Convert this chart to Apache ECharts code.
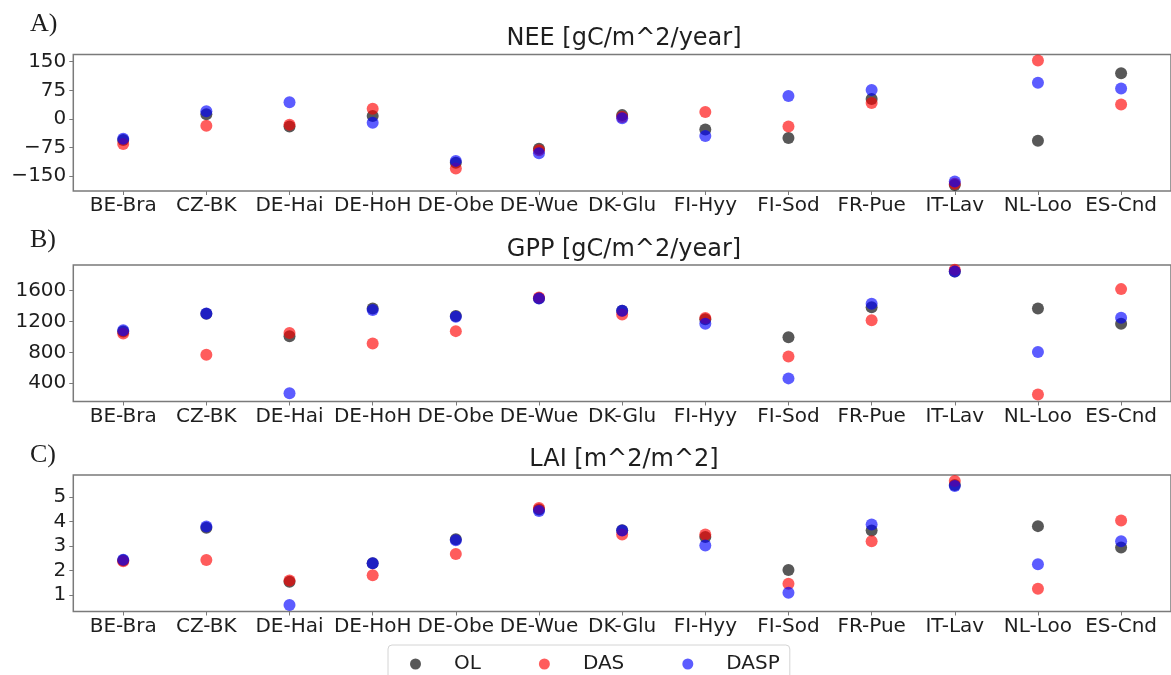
<!DOCTYPE html>
<html>
<head>
<meta charset="utf-8">
<script src="https://cdn.jsdelivr.net/npm/echarts@6/dist/echarts.min.js"></script>
<style>
html,body{margin:0;padding:0;background:#fff;}
#chart{width:1171px;height:675px;}
</style>
</head>
<body>
<div id="chart"></div>
<script>
// ---- data ----
const categories = ['BE-Bra','CZ-BK','DE-Hai','DE-HoH','DE-Obe','DE-Wue','DK-Glu','FI-Hyy','FI-Sod','FR-Pue','IT-Lav','NL-Loo','ES-Cnd'];
const seriesNames = ['OL','DAS','DASP'];

const neeOL   = [-55, 12, -20, 8, -115, -78, 10, -28, -50, 52, -173, -57, 120];
const neeDAS  = [-66, -18, -15, 27, -130, -82, 5, 18, -20, 42, -170, 153, 38];
const neeDASP = [-52, 20, 44, -10, -110, -90, 2, -45, 60, 76, -164, 95, 80];

const gppOL   = [1070, 1300, 1010, 1370, 1270, 1500, 1340, 1230, 995, 1385, 1850, 1368, 1170];
const gppDAS  = [1045, 770, 1050, 915, 1075, 1510, 1290, 1245, 745, 1215, 1870, 252, 1620];
const gppDASP = [1085, 1305, 270, 1350, 1262, 1498, 1340, 1170, 462, 1430, 1850, 805, 1250];

const laiOL   = [2.42, 3.75, 1.55, 2.30, 3.28, 4.50, 3.65, 3.38, 2.03, 3.64, 5.50, 3.82, 2.95];
const laiDAS  = [2.38, 2.44, 1.60, 1.81, 2.68, 4.56, 3.48, 3.48, 1.46, 3.20, 5.66, 1.26, 4.05];
const laiDASP = [2.45, 3.80, 0.60, 2.30, 3.24, 4.44, 3.64, 3.03, 1.10, 3.89, 5.46, 2.26, 3.20];

const neeTicks = [-150, -75, 0, 75, 150];
const gppTicks = [400, 800, 1200, 1600];
const laiTicks = [1, 2, 3, 4, 5];

const panelTitles = ['NEE [gC/m^2/year]', 'GPP [gC/m^2/year]', 'LAI [m^2/m^2]'];
const panelLetters = ['A)', 'B)', 'C)'];

// ---- layout / style ----
const colors = ['rgba(0,0,0,0.82)', 'rgba(255,0,0,0.8)', 'rgba(0,0,255,0.8)'];
const panels = [
  {vals: [neeOL, neeDAS, neeDASP], ticks: neeTicks, min: -189, max: 169, top: 54.5},
  {vals: [gppOL, gppDAS, gppDASP], ticks: gppTicks, min: 162, max: 1933, top: 265},
  {vals: [laiOL, laiDAS, laiDASP], ticks: laiTicks, min: 0.33, max: 5.91, top: 475}
];
const titleY = [39, 249.5, 459.5];
const letterY = [24, 240, 455];
const gridLeft = 73.3, gridWidth = 1100, gridHeight = 136.5;
const frameColor = '#7a7a7a';
const textColor = '#1e1e1e';
const font = 'DejaVu Sans';
const catIdx = categories.map((c, i) => i);

const grids = [], xAxes = [], yAxes = [], series = [], graphics = [];
panels.forEach((p, k) => {
  grids.push({left: gridLeft, top: p.top, width: gridWidth, height: gridHeight,
    show: true, borderColor: frameColor, borderWidth: 1.5, backgroundColor: 'transparent'});
  xAxes.push({
    type: 'value', gridIndex: k, min: -0.6, max: 12.6, position: 'bottom',
    axisLine: {show: false, onZero: false}, splitLine: {show: false},
    axisTick: {show: true, customValues: catIdx, length: 4, lineStyle: {color: frameColor, width: 1}},
    axisLabel: {customValues: catIdx, formatter: v => categories[Math.round(v)] || '',
      color: textColor, fontFamily: font, fontSize: 20, margin: 5}
  });
  yAxes.push({
    type: 'value', gridIndex: k, min: p.min, max: p.max, position: 'left',
    axisLine: {show: false, onZero: false}, splitLine: {show: false},
    axisTick: {show: true, customValues: p.ticks, length: 4, lineStyle: {color: frameColor, width: 1}},
    axisLabel: {customValues: p.ticks, color: textColor, fontFamily: font, fontSize: 20, margin: 7,
      formatter: v => (v < 0 ? '\u2212' + Math.abs(v) : String(v))}
  });
  p.vals.forEach((arr, s) => {
    series.push({
      name: seriesNames[s], type: 'scatter', xAxisIndex: k, yAxisIndex: k,
      symbol: 'circle', symbolSize: 12, z: 2 + s,
      itemStyle: {color: colors[s]},
      emphasis: {disabled: true},
      data: arr.map((v, i) => [i, v])
    });
  });
  graphics.push({type: 'text', x: 624, y: titleY[k],
    style: {text: panelTitles[k], fontFamily: font, fontSize: 24, fill: textColor, align: 'center', verticalAlign: 'middle'}});
  graphics.push({type: 'text', x: 30, y: letterY[k],
    style: {text: panelLetters[k], fontFamily: 'Liberation Serif', fontSize: 26, fill: textColor, align: 'left', verticalAlign: 'middle'}});
});

const chart = echarts.init(document.getElementById('chart'), null, {renderer: 'canvas'});
chart.setOption({
  animation: false,
  backgroundColor: '#fff',
  grid: grids,
  xAxis: xAxes,
  yAxis: yAxes,
  series: series,
  graphic: graphics,
  legend: {
    data: seriesNames, left: 388, top: 645, orient: 'horizontal',
    icon: 'circle', itemWidth: 11, itemHeight: 11, itemGap: 58,
    padding: [9, 10, 5, 22],
    backgroundColor: '#fff', borderColor: '#d4d4d4', borderWidth: 1, borderRadius: 4,
    textStyle: {fontFamily: font, fontSize: 20, color: textColor, padding: [0, 0, 0, 28]},
    selectedMode: false
  }
});
</script>
</body>
</html>
